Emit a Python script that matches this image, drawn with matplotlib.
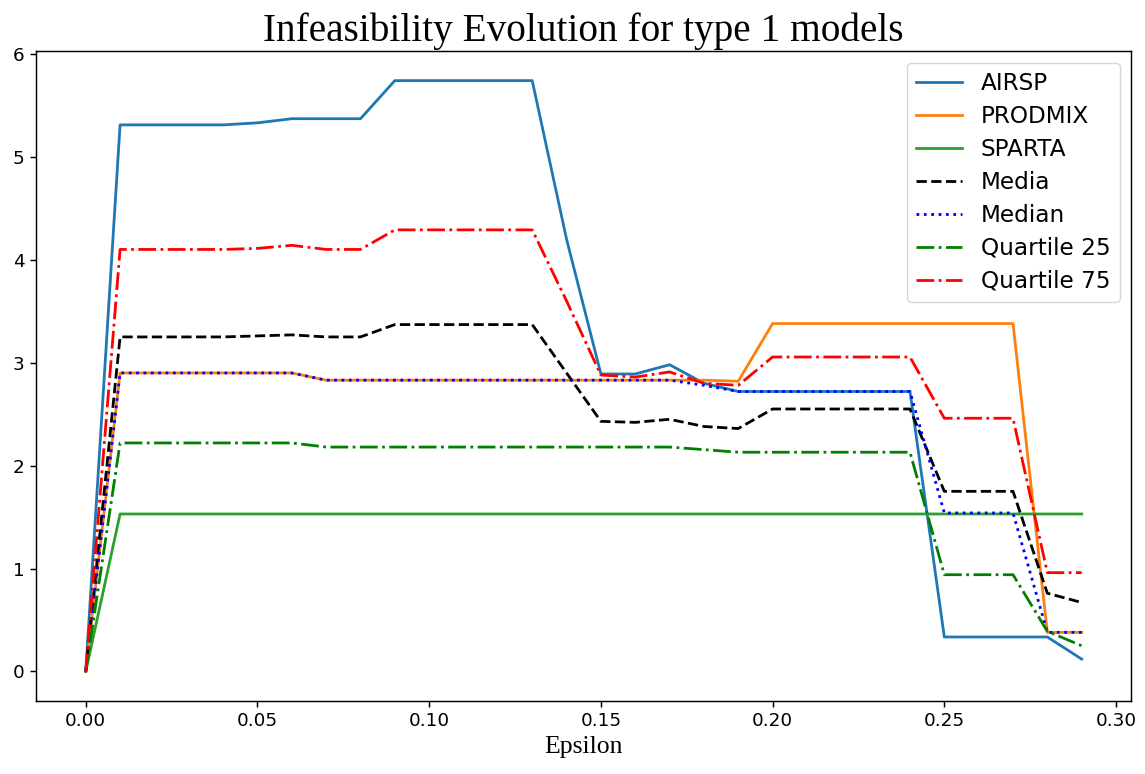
import matplotlib
matplotlib.use('Agg')
import matplotlib.pyplot as plt

# epsilon values 0.00 .. 0.29
epsilon = [round(0.01*i, 2) for i in range(30)]

airsp = [0, 5.31, 5.31, 5.31, 5.31, 5.33, 5.37, 5.37, 5.37, 5.74,
         5.74, 5.74, 5.74, 5.74, 4.2, 2.89, 2.89, 2.98, 2.80, 2.72,
         2.72, 2.72, 2.72, 2.72, 2.72, 0.335, 0.335, 0.335, 0.335, 0.12]
prodmix = [0, 2.90, 2.90, 2.90, 2.90, 2.90, 2.90, 2.83, 2.83, 2.83,
           2.83, 2.83, 2.83, 2.83, 2.83, 2.83, 2.83, 2.83, 2.83, 2.82,
           3.38, 3.38, 3.38, 3.38, 3.38, 3.38, 3.38, 3.38, 0.38, 0.38]
sparta = [0] + [1.53]*29
media = [0, 3.25, 3.25, 3.25, 3.25, 3.26, 3.27, 3.25, 3.25, 3.37,
         3.37, 3.37, 3.37, 3.37, 2.90, 2.43, 2.42, 2.45, 2.38, 2.36,
         2.55, 2.55, 2.55, 2.55, 2.55, 1.75, 1.75, 1.75, 0.76, 0.67]
median = [0, 2.90, 2.90, 2.90, 2.90, 2.90, 2.90, 2.83, 2.83, 2.83,
          2.83, 2.83, 2.83, 2.83, 2.83, 2.83, 2.83, 2.83, 2.78, 2.72,
          2.72, 2.72, 2.72, 2.72, 2.72, 1.54, 1.54, 1.54, 0.38, 0.38]
q25 = [0, 2.22, 2.22, 2.22, 2.22, 2.22, 2.22, 2.18, 2.18, 2.18,
       2.18, 2.18, 2.18, 2.18, 2.18, 2.18, 2.18, 2.18, 2.155, 2.13,
       2.13, 2.13, 2.13, 2.13, 2.13, 0.94, 0.94, 0.94, 0.39, 0.25]
q75 = [0, 4.10, 4.10, 4.10, 4.10, 4.11, 4.14, 4.10, 4.10, 4.29,
       4.29, 4.29, 4.29, 4.29, 3.60, 2.88, 2.86, 2.91, 2.80, 2.78,
       3.055, 3.055, 3.055, 3.055, 3.055, 2.46, 2.46, 2.46, 0.96, 0.96]

lw = 2.0
fig = plt.figure(figsize=(11.45, 7.74), dpi=100)
ax = fig.add_axes([0.0314, 0.0943, 0.9568, 0.8397])

ax.plot(epsilon, airsp, label='AIRSP', lw=lw)
ax.plot(epsilon, prodmix, label='PRODMIX', lw=lw)
ax.plot(epsilon, sparta, label='SPARTA', lw=lw)
ax.plot(epsilon, media, 'k--', label='Media', lw=lw)
ax.plot(epsilon, median, 'b:', label='Median', lw=lw)
ax.plot(epsilon, q25, 'g-.', label='Quartile 25', lw=lw)
ax.plot(epsilon, q75, 'r-.', label='Quartile 75', lw=lw)

ax.set_title('Infeasibility Evolution for type 1 models', family='Liberation Serif', fontsize=28.3, pad=7)
ax.set_xlabel('Epsilon', family='Liberation Serif', fontsize=18.5, labelpad=4)
ax.tick_params(labelsize=13.2, length=4.6, width=1.05)
for s in ax.spines.values():
    s.set_linewidth(1.05)
ax.legend(loc='upper right', fontsize=16.7, labelspacing=0.43)

plt.savefig('out.png', dpi=100)
